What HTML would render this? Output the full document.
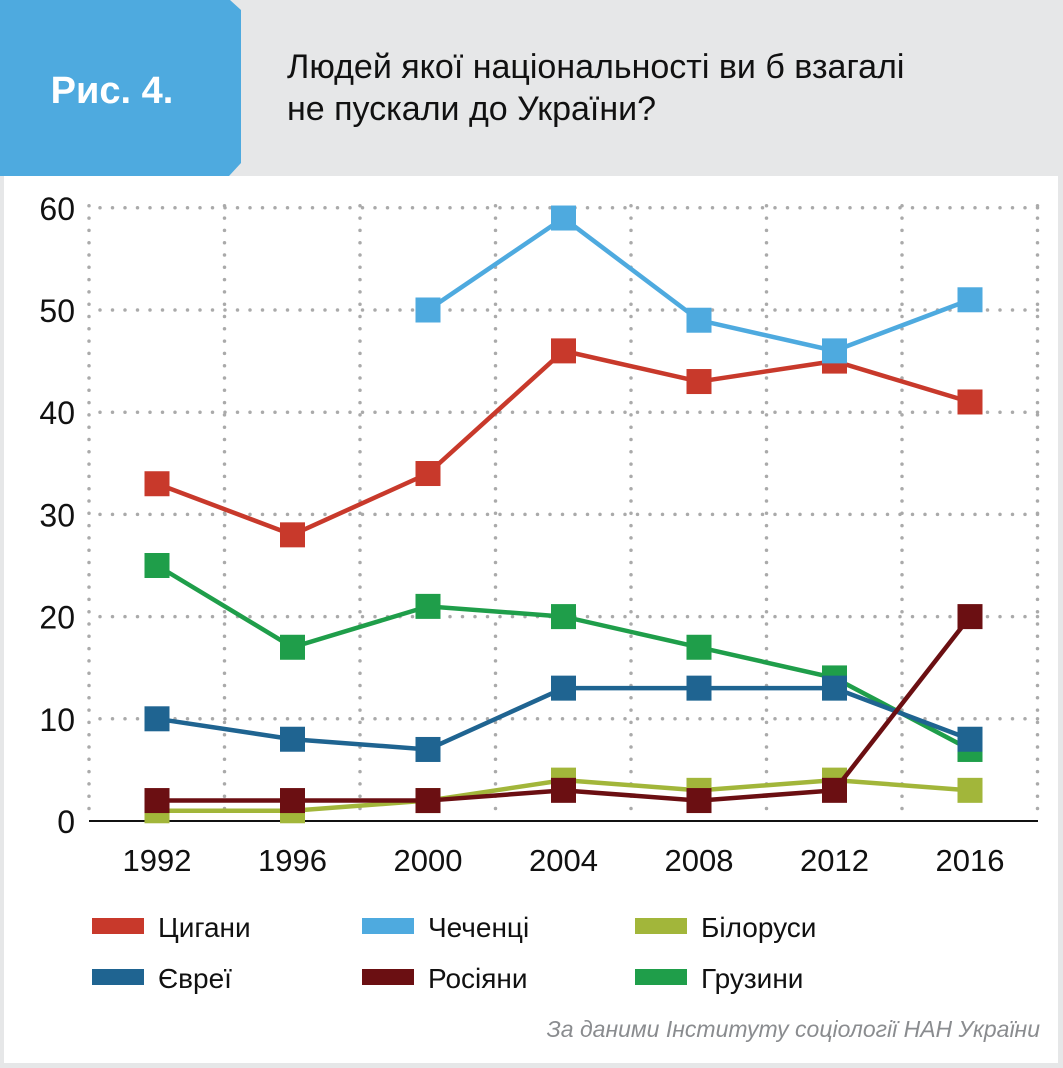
<!DOCTYPE html>
<html><head><meta charset="utf-8"><style>
body{margin:0;width:1063px;height:1063px;background:#e6e7e8;overflow:hidden;font-family:"Liberation Sans",sans-serif}
</style></head><body>
<svg width="1063" height="1063" xmlns="http://www.w3.org/2000/svg">
<rect x="0" y="0" width="1063" height="1063" fill="#e6e7e8"/>
<rect x="4" y="176" width="1054" height="887" fill="#fff"/>
<polygon points="0,0 230,0 241,10 241,163 229,176 0,176" fill="#4eaadf"/>
<text x="112" y="103" text-anchor="middle" font-size="38" font-weight="bold" fill="#fff">Рис. 4.</text>
<text x="287" y="78" font-size="34" fill="#111">Людей якої національності ви б взагалі</text>
<text x="287" y="120" font-size="34" fill="#111">не пускали до України?</text>
<g id="grid"></g>
<line x1="89" y1="821" x2="1038" y2="821" stroke="#111" stroke-width="2"/>
<g id="yt"></g><g id="xt"></g><g id="series"></g><g id="legend"></g>
<text x="1040" y="1037" text-anchor="end" font-size="23" font-style="italic" fill="#8a8c8f">За даними Інституту соціології НАН України</text>
</svg>
<script>
const years=["1992","1996","2000","2004","2008","2012","2016"];
const yTicks=[0,10,20,30,40,50,60];
const tsygany=[33,28,34,46,43,45,41];
const chechentsi=[null,null,50,59,49,46,51];
const bilorusy=[1,1,2,4,3,4,3];
const yevrei=[10,8,7,13,13,13,8];
const rosiiany=[2,2,2,3,2,3,20];
const gruzyny=[25,17,21,20,17,14,7];
const names=["Цигани","Чеченці","Білоруси","Євреї","Росіяни","Грузини"];
const colors=["#c8392b","#4eaadf","#a2b63a","#1f6491","#6b0f12","#1f9e4a"];
const NS="http://www.w3.org/2000/svg";
const xs=i=>157+i*135.5;
const ys=v=>821-v*10.22;
function mk(t,a,p){const e=document.createElementNS(NS,t);for(const k in a)e.setAttribute(k,a[k]);p.appendChild(e);return e;}
const grid=document.getElementById('grid');
for(let k=0;k<8;k++){const x=89+k*135.5;const l=mk('line',{x1:x,y1:ys(60)-2,x2:x,y2:818,stroke:'#aaa','stroke-width':3.5,'stroke-linecap':'round','stroke-dasharray':'0 12.3'},grid);

}
const yt=document.getElementById('yt');
yTicks.forEach(v=>{if(v>0){const l=mk('line',{x1:100,y1:ys(v),x2:1038,y2:ys(v),stroke:'#aaa','stroke-width':3.5,'stroke-linecap':'round','stroke-dasharray':'0 12.5'},grid);

}
const t=mk('text',{x:75,y:ys(v)+12,'text-anchor':'end','font-size':32,fill:'#111'},yt);t.textContent=v;

});
const xt=document.getElementById('xt');
years.forEach((y,i)=>{const t=mk('text',{x:xs(i),y:871,'text-anchor':'middle','font-size':31,fill:'#111'},xt);t.textContent=y;

});
const sg=document.getElementById('series');
const data=[tsygany,chechentsi,bilorusy,yevrei,rosiiany,gruzyny];
const order=[2,5,3,4,0,1];
order.forEach(s=>{const arr=data[s];const g=mk('g',{},sg);


let pts=[];arr.forEach((v,i)=>{if(v!==null)pts.push(xs(i)+','+ys(v));});
const pl=mk('polyline',{points:pts.join(' '),fill:'none',stroke:colors[s],'stroke-width':4.5},g);


arr.forEach((v,i)=>{if(v===null)return;const r=mk('rect',{x:xs(i)-12.5,y:ys(v)-12.5,width:25,height:25,fill:colors[s]},g);

});});
const lg=document.getElementById('legend');
names.forEach((n,i)=>{const c=i%3,r=Math.floor(i/3);const x=[92,362,635][c],y=[918,969][r];
const sw=mk('rect',{x:x,y:y,width:52,height:16,fill:colors[i]},lg);


const t=mk('text',{x:x+66,y:y+19,'font-size':28,fill:'#111'},lg);t.textContent=n;

});
</script>
</body></html>
